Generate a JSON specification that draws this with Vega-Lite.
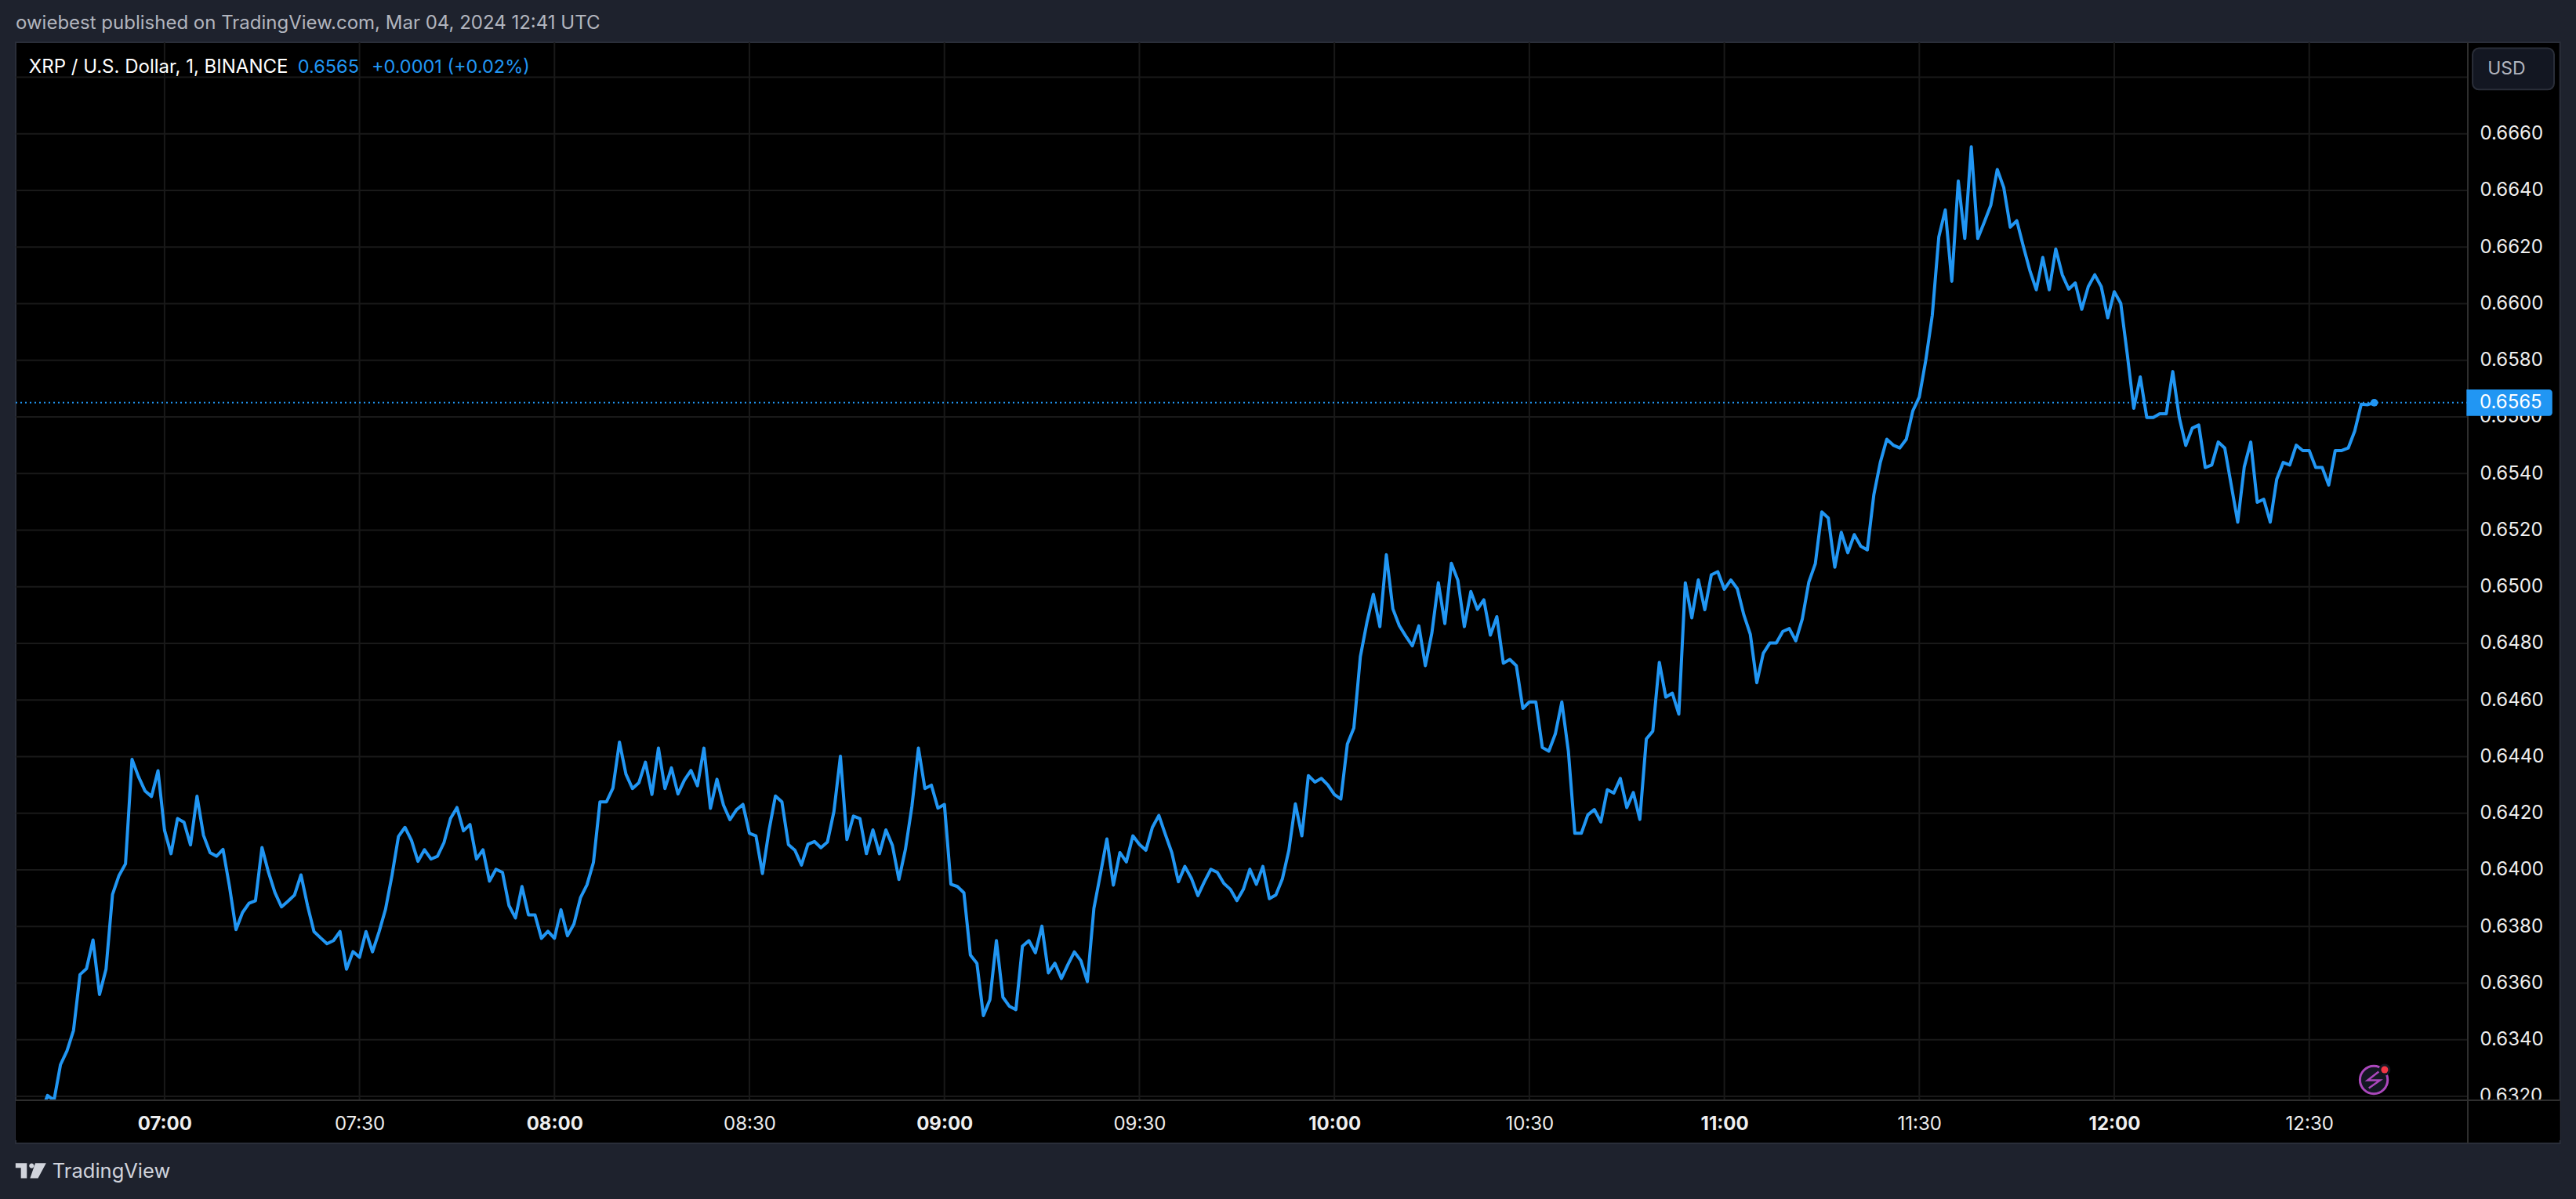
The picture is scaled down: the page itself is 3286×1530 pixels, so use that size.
{"$schema":"https://vega.github.io/schema/vega-lite/v6.json","autosize":"none","width":3128,"height":1350,"padding":{"left":20,"top":54,"right":138,"bottom":126},"background":"#1e222d",
"title":{"text":"owiebest published on TradingView.com, Mar 04, 2024 12:41 UTC","anchor":"start","frame":"group","offset":11,"font":"Inter","fontSize":24,"fontWeight":"normal","color":"#b2b5be"},
"encoding":{
"x":{"field":"time","type":"temporal","title":null,"scale":{"domain":[1709534226000,1709556864000]},"axis":{"format":"%H:%M","values":[{"utc":true,"year":2024,"month":3,"date":4,"hours":7,"minutes":0},{"utc":true,"year":2024,"month":3,"date":4,"hours":7,"minutes":30},{"utc":true,"year":2024,"month":3,"date":4,"hours":8,"minutes":0},{"utc":true,"year":2024,"month":3,"date":4,"hours":8,"minutes":30},{"utc":true,"year":2024,"month":3,"date":4,"hours":9,"minutes":0},{"utc":true,"year":2024,"month":3,"date":4,"hours":9,"minutes":30},{"utc":true,"year":2024,"month":3,"date":4,"hours":10,"minutes":0},{"utc":true,"year":2024,"month":3,"date":4,"hours":10,"minutes":30},{"utc":true,"year":2024,"month":3,"date":4,"hours":11,"minutes":0},{"utc":true,"year":2024,"month":3,"date":4,"hours":11,"minutes":30},{"utc":true,"year":2024,"month":3,"date":4,"hours":12,"minutes":0},{"utc":true,"year":2024,"month":3,"date":4,"hours":12,"minutes":30}],"grid":false,"domain":false,"ticks":false,"labelFont":"Inter","labelFontSize":24,"labelColor":"#eeeeee","labelPadding":18,"labelFontWeight":{"condition":{"test":"minutes(datum.value)===0","value":"bold"},"value":"normal"},"zindex":1}},
"y":{"field":"price","type":"quantitative","title":null,"scale":{"domain":[0.63186,0.66923],"nice":false,"zero":false},"axis":{"orient":"right","values":[0.634,0.636,0.638,0.64,0.642,0.644,0.646,0.648,0.65,0.652,0.654,0.658,0.66,0.662,0.664,0.666],"format":".4f","grid":false,"domain":false,"ticks":false,"labelFont":"Inter","labelFontSize":24,"labelColor":"#eeeeee","labelPadding":15,"zindex":1}}
},
"layer":[
{"data":{"values":[{"time":"2024-03-04T06:37:06Z","time2":"2024-03-04T13:08:36Z","price":0.66923,"price2":0.63034}]},"mark":{"type":"rect","fill":"#000000","stroke":"#2a2e39","strokeWidth":2},"encoding":{"x2":{"field":"time2"},"y2":{"field":"price2"}}},
{"data":{"values":[{"time":"2024-03-04T07:00:00Z","price":0.66923,"price2":0.63186},{"time":"2024-03-04T07:30:00Z","price":0.66923,"price2":0.63186},{"time":"2024-03-04T08:00:00Z","price":0.66923,"price2":0.63186},{"time":"2024-03-04T08:30:00Z","price":0.66923,"price2":0.63186},{"time":"2024-03-04T09:00:00Z","price":0.66923,"price2":0.63186},{"time":"2024-03-04T09:30:00Z","price":0.66923,"price2":0.63186},{"time":"2024-03-04T10:00:00Z","price":0.66923,"price2":0.63186},{"time":"2024-03-04T10:30:00Z","price":0.66923,"price2":0.63186},{"time":"2024-03-04T11:00:00Z","price":0.66923,"price2":0.63186},{"time":"2024-03-04T11:30:00Z","price":0.66923,"price2":0.63186},{"time":"2024-03-04T12:00:00Z","price":0.66923,"price2":0.63186},{"time":"2024-03-04T12:30:00Z","price":0.66923,"price2":0.63186}]},"mark":{"type":"rule","color":"#191919","strokeWidth":2},"encoding":{"y2":{"field":"price2"}}},
{"data":{"values":[{"time":"2024-03-04T06:37:06Z","time2":"2024-03-04T12:54:24Z","price":0.632},{"time":"2024-03-04T06:37:06Z","time2":"2024-03-04T12:54:24Z","price":0.634},{"time":"2024-03-04T06:37:06Z","time2":"2024-03-04T12:54:24Z","price":0.636},{"time":"2024-03-04T06:37:06Z","time2":"2024-03-04T12:54:24Z","price":0.638},{"time":"2024-03-04T06:37:06Z","time2":"2024-03-04T12:54:24Z","price":0.64},{"time":"2024-03-04T06:37:06Z","time2":"2024-03-04T12:54:24Z","price":0.642},{"time":"2024-03-04T06:37:06Z","time2":"2024-03-04T12:54:24Z","price":0.644},{"time":"2024-03-04T06:37:06Z","time2":"2024-03-04T12:54:24Z","price":0.646},{"time":"2024-03-04T06:37:06Z","time2":"2024-03-04T12:54:24Z","price":0.648},{"time":"2024-03-04T06:37:06Z","time2":"2024-03-04T12:54:24Z","price":0.65},{"time":"2024-03-04T06:37:06Z","time2":"2024-03-04T12:54:24Z","price":0.652},{"time":"2024-03-04T06:37:06Z","time2":"2024-03-04T12:54:24Z","price":0.654},{"time":"2024-03-04T06:37:06Z","time2":"2024-03-04T12:54:24Z","price":0.656},{"time":"2024-03-04T06:37:06Z","time2":"2024-03-04T12:54:24Z","price":0.658},{"time":"2024-03-04T06:37:06Z","time2":"2024-03-04T12:54:24Z","price":0.66},{"time":"2024-03-04T06:37:06Z","time2":"2024-03-04T12:54:24Z","price":0.662},{"time":"2024-03-04T06:37:06Z","time2":"2024-03-04T12:54:24Z","price":0.664},{"time":"2024-03-04T06:37:06Z","time2":"2024-03-04T12:54:24Z","price":0.666},{"time":"2024-03-04T06:37:06Z","time2":"2024-03-04T12:54:24Z","price":0.668}]},"mark":{"type":"rule","color":"#191919","strokeWidth":2},"encoding":{"x2":{"field":"time2"}}},
{"data":{"values":[{"time":"2024-03-04T06:37:06Z","time2":"2024-03-04T12:54:24Z","price":0.6565}]},"mark":{"type":"rule","color":"#2196f3","strokeWidth":2,"strokeDash":[2,4]},"encoding":{"x2":{"field":"time2"}}},
{"data":{"values":[
{"time":"2024-03-04T06:41:00Z","price":0.6314},{"time":"2024-03-04T06:42:00Z","price":0.63203},{"time":"2024-03-04T06:43:00Z","price":0.63186},{"time":"2024-03-04T06:44:00Z","price":0.63312},{"time":"2024-03-04T06:45:00Z","price":0.63361},{"time":"2024-03-04T06:46:00Z","price":0.63433},{"time":"2024-03-04T06:47:00Z","price":0.6363},{"time":"2024-03-04T06:48:00Z","price":0.63651},{"time":"2024-03-04T06:49:00Z","price":0.63752},{"time":"2024-03-04T06:50:00Z","price":0.6356},{"time":"2024-03-04T06:51:00Z","price":0.63649},{"time":"2024-03-04T06:52:00Z","price":0.63913},{"time":"2024-03-04T06:53:00Z","price":0.6398},{"time":"2024-03-04T06:54:00Z","price":0.64021},{"time":"2024-03-04T06:55:00Z","price":0.6439},{"time":"2024-03-04T06:56:00Z","price":0.64329},{"time":"2024-03-04T06:57:00Z","price":0.64279},{"time":"2024-03-04T06:58:00Z","price":0.64259},{"time":"2024-03-04T06:59:00Z","price":0.6435},
{"time":"2024-03-04T07:00:00Z","price":0.6414},{"time":"2024-03-04T07:01:00Z","price":0.64057},{"time":"2024-03-04T07:02:00Z","price":0.64181},{"time":"2024-03-04T07:03:00Z","price":0.64168},{"time":"2024-03-04T07:04:00Z","price":0.64088},{"time":"2024-03-04T07:05:00Z","price":0.6426},{"time":"2024-03-04T07:06:00Z","price":0.64122},{"time":"2024-03-04T07:07:00Z","price":0.64061},{"time":"2024-03-04T07:08:00Z","price":0.64048},{"time":"2024-03-04T07:09:00Z","price":0.64072},{"time":"2024-03-04T07:10:00Z","price":0.63941},{"time":"2024-03-04T07:11:00Z","price":0.63789},{"time":"2024-03-04T07:12:00Z","price":0.63849},{"time":"2024-03-04T07:13:00Z","price":0.63882},{"time":"2024-03-04T07:14:00Z","price":0.63891},{"time":"2024-03-04T07:15:00Z","price":0.64079},{"time":"2024-03-04T07:16:00Z","price":0.63991},{"time":"2024-03-04T07:17:00Z","price":0.63919},{"time":"2024-03-04T07:18:00Z","price":0.63869},{"time":"2024-03-04T07:19:00Z","price":0.63889},{"time":"2024-03-04T07:20:00Z","price":0.63911},{"time":"2024-03-04T07:21:00Z","price":0.63982},{"time":"2024-03-04T07:22:00Z","price":0.63874},{"time":"2024-03-04T07:23:00Z","price":0.63782},{"time":"2024-03-04T07:24:00Z","price":0.6376},{"time":"2024-03-04T07:25:00Z","price":0.63739},{"time":"2024-03-04T07:26:00Z","price":0.6375},{"time":"2024-03-04T07:27:00Z","price":0.63782},{"time":"2024-03-04T07:28:00Z","price":0.63649},{"time":"2024-03-04T07:29:00Z","price":0.63711},{"time":"2024-03-04T07:30:00Z","price":0.63691},{"time":"2024-03-04T07:31:00Z","price":0.63782},{"time":"2024-03-04T07:32:00Z","price":0.6371},{"time":"2024-03-04T07:33:00Z","price":0.6378},{"time":"2024-03-04T07:34:00Z","price":0.6386},{"time":"2024-03-04T07:35:00Z","price":0.6398},{"time":"2024-03-04T07:36:00Z","price":0.64118},{"time":"2024-03-04T07:37:00Z","price":0.6415},{"time":"2024-03-04T07:38:00Z","price":0.64104},{"time":"2024-03-04T07:39:00Z","price":0.6403},{"time":"2024-03-04T07:40:00Z","price":0.64071},{"time":"2024-03-04T07:41:00Z","price":0.64038},{"time":"2024-03-04T07:42:00Z","price":0.64048},{"time":"2024-03-04T07:43:00Z","price":0.64096},{"time":"2024-03-04T07:44:00Z","price":0.64181},{"time":"2024-03-04T07:45:00Z","price":0.6422},{"time":"2024-03-04T07:46:00Z","price":0.64138},{"time":"2024-03-04T07:47:00Z","price":0.6416},{"time":"2024-03-04T07:48:00Z","price":0.64038},{"time":"2024-03-04T07:49:00Z","price":0.64071},{"time":"2024-03-04T07:50:00Z","price":0.6396},{"time":"2024-03-04T07:51:00Z","price":0.64002},{"time":"2024-03-04T07:52:00Z","price":0.63991},{"time":"2024-03-04T07:53:00Z","price":0.63874},{"time":"2024-03-04T07:54:00Z","price":0.6383},{"time":"2024-03-04T07:55:00Z","price":0.63941},{"time":"2024-03-04T07:56:00Z","price":0.63841},{"time":"2024-03-04T07:57:00Z","price":0.63841},{"time":"2024-03-04T07:58:00Z","price":0.63758},{"time":"2024-03-04T07:59:00Z","price":0.63783},
{"time":"2024-03-04T08:00:00Z","price":0.63758},{"time":"2024-03-04T08:01:00Z","price":0.63859},{"time":"2024-03-04T08:02:00Z","price":0.63767},{"time":"2024-03-04T08:03:00Z","price":0.63809},{"time":"2024-03-04T08:04:00Z","price":0.63901},{"time":"2024-03-04T08:05:00Z","price":0.63947},{"time":"2024-03-04T08:06:00Z","price":0.64026},{"time":"2024-03-04T08:07:00Z","price":0.6424},{"time":"2024-03-04T08:08:00Z","price":0.6424},{"time":"2024-03-04T08:09:00Z","price":0.64289},{"time":"2024-03-04T08:10:00Z","price":0.64451},{"time":"2024-03-04T08:11:00Z","price":0.64338},{"time":"2024-03-04T08:12:00Z","price":0.64287},{"time":"2024-03-04T08:13:00Z","price":0.64308},{"time":"2024-03-04T08:14:00Z","price":0.6438},{"time":"2024-03-04T08:15:00Z","price":0.64266},{"time":"2024-03-04T08:16:00Z","price":0.6443},{"time":"2024-03-04T08:17:00Z","price":0.64287},{"time":"2024-03-04T08:18:00Z","price":0.6436},{"time":"2024-03-04T08:19:00Z","price":0.64268},{"time":"2024-03-04T08:20:00Z","price":0.64317},{"time":"2024-03-04T08:21:00Z","price":0.64351},{"time":"2024-03-04T08:22:00Z","price":0.64297},{"time":"2024-03-04T08:23:00Z","price":0.6443},{"time":"2024-03-04T08:24:00Z","price":0.64217},{"time":"2024-03-04T08:25:00Z","price":0.6432},{"time":"2024-03-04T08:26:00Z","price":0.64229},{"time":"2024-03-04T08:27:00Z","price":0.64177},{"time":"2024-03-04T08:28:00Z","price":0.64212},{"time":"2024-03-04T08:29:00Z","price":0.64231},{"time":"2024-03-04T08:30:00Z","price":0.64129},{"time":"2024-03-04T08:31:00Z","price":0.6412},{"time":"2024-03-04T08:32:00Z","price":0.63987},{"time":"2024-03-04T08:33:00Z","price":0.64137},{"time":"2024-03-04T08:34:00Z","price":0.64261},{"time":"2024-03-04T08:35:00Z","price":0.6424},{"time":"2024-03-04T08:36:00Z","price":0.64089},{"time":"2024-03-04T08:37:00Z","price":0.64069},{"time":"2024-03-04T08:38:00Z","price":0.64017},{"time":"2024-03-04T08:39:00Z","price":0.6409},{"time":"2024-03-04T08:40:00Z","price":0.641},{"time":"2024-03-04T08:41:00Z","price":0.64078},{"time":"2024-03-04T08:42:00Z","price":0.64098},{"time":"2024-03-04T08:43:00Z","price":0.64206},{"time":"2024-03-04T08:44:00Z","price":0.64401},{"time":"2024-03-04T08:45:00Z","price":0.64107},{"time":"2024-03-04T08:46:00Z","price":0.6419},{"time":"2024-03-04T08:47:00Z","price":0.64181},{"time":"2024-03-04T08:48:00Z","price":0.64057},{"time":"2024-03-04T08:49:00Z","price":0.64141},{"time":"2024-03-04T08:50:00Z","price":0.64057},{"time":"2024-03-04T08:51:00Z","price":0.64141},{"time":"2024-03-04T08:52:00Z","price":0.64086},{"time":"2024-03-04T08:53:00Z","price":0.63966},{"time":"2024-03-04T08:54:00Z","price":0.64072},{"time":"2024-03-04T08:55:00Z","price":0.64224},{"time":"2024-03-04T08:56:00Z","price":0.6443},{"time":"2024-03-04T08:57:00Z","price":0.64287},{"time":"2024-03-04T08:58:00Z","price":0.64299},{"time":"2024-03-04T08:59:00Z","price":0.64218},
{"time":"2024-03-04T09:00:00Z","price":0.64231},{"time":"2024-03-04T09:01:00Z","price":0.63949},{"time":"2024-03-04T09:02:00Z","price":0.63941},{"time":"2024-03-04T09:03:00Z","price":0.63919},{"time":"2024-03-04T09:04:00Z","price":0.63699},{"time":"2024-03-04T09:05:00Z","price":0.6367},{"time":"2024-03-04T09:06:00Z","price":0.63485},{"time":"2024-03-04T09:07:00Z","price":0.63541},{"time":"2024-03-04T09:08:00Z","price":0.6375},{"time":"2024-03-04T09:09:00Z","price":0.6355},{"time":"2024-03-04T09:10:00Z","price":0.63518},{"time":"2024-03-04T09:11:00Z","price":0.63506},{"time":"2024-03-04T09:12:00Z","price":0.6373},{"time":"2024-03-04T09:13:00Z","price":0.6375},{"time":"2024-03-04T09:14:00Z","price":0.63707},{"time":"2024-03-04T09:15:00Z","price":0.63801},{"time":"2024-03-04T09:16:00Z","price":0.63636},{"time":"2024-03-04T09:17:00Z","price":0.6367},{"time":"2024-03-04T09:18:00Z","price":0.63616},{"time":"2024-03-04T09:19:00Z","price":0.63665},{"time":"2024-03-04T09:20:00Z","price":0.6371},{"time":"2024-03-04T09:21:00Z","price":0.63679},{"time":"2024-03-04T09:22:00Z","price":0.63605},{"time":"2024-03-04T09:23:00Z","price":0.63864},{"time":"2024-03-04T09:24:00Z","price":0.63984},{"time":"2024-03-04T09:25:00Z","price":0.64109},{"time":"2024-03-04T09:26:00Z","price":0.63946},{"time":"2024-03-04T09:27:00Z","price":0.64061},{"time":"2024-03-04T09:28:00Z","price":0.64028},{"time":"2024-03-04T09:29:00Z","price":0.6412},{"time":"2024-03-04T09:30:00Z","price":0.6409},{"time":"2024-03-04T09:31:00Z","price":0.64069},{"time":"2024-03-04T09:32:00Z","price":0.6415},{"time":"2024-03-04T09:33:00Z","price":0.64192},{"time":"2024-03-04T09:34:00Z","price":0.64125},{"time":"2024-03-04T09:35:00Z","price":0.6406},{"time":"2024-03-04T09:36:00Z","price":0.63958},{"time":"2024-03-04T09:37:00Z","price":0.64012},{"time":"2024-03-04T09:38:00Z","price":0.6397},{"time":"2024-03-04T09:39:00Z","price":0.63909},{"time":"2024-03-04T09:40:00Z","price":0.63958},{"time":"2024-03-04T09:41:00Z","price":0.64002},{"time":"2024-03-04T09:42:00Z","price":0.63991},{"time":"2024-03-04T09:43:00Z","price":0.63952},{"time":"2024-03-04T09:44:00Z","price":0.63931},{"time":"2024-03-04T09:45:00Z","price":0.63891},{"time":"2024-03-04T09:46:00Z","price":0.63931},{"time":"2024-03-04T09:47:00Z","price":0.64002},{"time":"2024-03-04T09:48:00Z","price":0.63949},{"time":"2024-03-04T09:49:00Z","price":0.64012},{"time":"2024-03-04T09:50:00Z","price":0.63898},{"time":"2024-03-04T09:51:00Z","price":0.63911},{"time":"2024-03-04T09:52:00Z","price":0.63968},{"time":"2024-03-04T09:53:00Z","price":0.64069},{"time":"2024-03-04T09:54:00Z","price":0.64233},{"time":"2024-03-04T09:55:00Z","price":0.6412},{"time":"2024-03-04T09:56:00Z","price":0.64333},{"time":"2024-03-04T09:57:00Z","price":0.6431},{"time":"2024-03-04T09:58:00Z","price":0.64323},{"time":"2024-03-04T09:59:00Z","price":0.643},
{"time":"2024-03-04T10:00:00Z","price":0.64266},{"time":"2024-03-04T10:01:00Z","price":0.6425},{"time":"2024-03-04T10:02:00Z","price":0.64444},{"time":"2024-03-04T10:03:00Z","price":0.64501},{"time":"2024-03-04T10:04:00Z","price":0.64753},{"time":"2024-03-04T10:05:00Z","price":0.64873},{"time":"2024-03-04T10:06:00Z","price":0.64973},{"time":"2024-03-04T10:07:00Z","price":0.64859},{"time":"2024-03-04T10:08:00Z","price":0.65113},{"time":"2024-03-04T10:09:00Z","price":0.64922},{"time":"2024-03-04T10:10:00Z","price":0.64862},{"time":"2024-03-04T10:11:00Z","price":0.64825},{"time":"2024-03-04T10:12:00Z","price":0.64791},{"time":"2024-03-04T10:13:00Z","price":0.64862},{"time":"2024-03-04T10:14:00Z","price":0.64721},{"time":"2024-03-04T10:15:00Z","price":0.64836},{"time":"2024-03-04T10:16:00Z","price":0.65014},{"time":"2024-03-04T10:17:00Z","price":0.6487},{"time":"2024-03-04T10:18:00Z","price":0.65083},{"time":"2024-03-04T10:19:00Z","price":0.65023},{"time":"2024-03-04T10:20:00Z","price":0.64859},{"time":"2024-03-04T10:21:00Z","price":0.64983},{"time":"2024-03-04T10:22:00Z","price":0.6492},{"time":"2024-03-04T10:23:00Z","price":0.64954},{"time":"2024-03-04T10:24:00Z","price":0.64829},{"time":"2024-03-04T10:25:00Z","price":0.64894},{"time":"2024-03-04T10:26:00Z","price":0.6473},{"time":"2024-03-04T10:27:00Z","price":0.64743},{"time":"2024-03-04T10:28:00Z","price":0.64721},{"time":"2024-03-04T10:29:00Z","price":0.6457},{"time":"2024-03-04T10:30:00Z","price":0.64593},{"time":"2024-03-04T10:31:00Z","price":0.64593},{"time":"2024-03-04T10:32:00Z","price":0.64432},{"time":"2024-03-04T10:33:00Z","price":0.64419},{"time":"2024-03-04T10:34:00Z","price":0.6448},{"time":"2024-03-04T10:35:00Z","price":0.64593},{"time":"2024-03-04T10:36:00Z","price":0.6442},{"time":"2024-03-04T10:37:00Z","price":0.64129},{"time":"2024-03-04T10:38:00Z","price":0.64129},{"time":"2024-03-04T10:39:00Z","price":0.64194},{"time":"2024-03-04T10:40:00Z","price":0.64213},{"time":"2024-03-04T10:41:00Z","price":0.64169},{"time":"2024-03-04T10:42:00Z","price":0.64283},{"time":"2024-03-04T10:43:00Z","price":0.64271},{"time":"2024-03-04T10:44:00Z","price":0.64323},{"time":"2024-03-04T10:45:00Z","price":0.6422},{"time":"2024-03-04T10:46:00Z","price":0.64273},{"time":"2024-03-04T10:47:00Z","price":0.64178},{"time":"2024-03-04T10:48:00Z","price":0.64462},{"time":"2024-03-04T10:49:00Z","price":0.6449},{"time":"2024-03-04T10:50:00Z","price":0.64733},{"time":"2024-03-04T10:51:00Z","price":0.6461},{"time":"2024-03-04T10:52:00Z","price":0.64624},{"time":"2024-03-04T10:53:00Z","price":0.6455},{"time":"2024-03-04T10:54:00Z","price":0.65014},{"time":"2024-03-04T10:55:00Z","price":0.6489},{"time":"2024-03-04T10:56:00Z","price":0.65024},{"time":"2024-03-04T10:57:00Z","price":0.64919},{"time":"2024-03-04T10:58:00Z","price":0.65042},{"time":"2024-03-04T10:59:00Z","price":0.65053},
{"time":"2024-03-04T11:00:00Z","price":0.64991},{"time":"2024-03-04T11:01:00Z","price":0.65024},{"time":"2024-03-04T11:02:00Z","price":0.64993},{"time":"2024-03-04T11:03:00Z","price":0.64901},{"time":"2024-03-04T11:04:00Z","price":0.64832},{"time":"2024-03-04T11:05:00Z","price":0.64661},{"time":"2024-03-04T11:06:00Z","price":0.64765},{"time":"2024-03-04T11:07:00Z","price":0.64801},{"time":"2024-03-04T11:08:00Z","price":0.64801},{"time":"2024-03-04T11:09:00Z","price":0.64842},{"time":"2024-03-04T11:10:00Z","price":0.64852},{"time":"2024-03-04T11:11:00Z","price":0.64809},{"time":"2024-03-04T11:12:00Z","price":0.64886},{"time":"2024-03-04T11:13:00Z","price":0.65016},{"time":"2024-03-04T11:14:00Z","price":0.65081},{"time":"2024-03-04T11:15:00Z","price":0.65264},{"time":"2024-03-04T11:16:00Z","price":0.65243},{"time":"2024-03-04T11:17:00Z","price":0.65069},{"time":"2024-03-04T11:18:00Z","price":0.65192},{"time":"2024-03-04T11:19:00Z","price":0.6512},{"time":"2024-03-04T11:20:00Z","price":0.65184},{"time":"2024-03-04T11:21:00Z","price":0.65143},{"time":"2024-03-04T11:22:00Z","price":0.6513},{"time":"2024-03-04T11:23:00Z","price":0.65324},{"time":"2024-03-04T11:24:00Z","price":0.65439},{"time":"2024-03-04T11:25:00Z","price":0.65521},{"time":"2024-03-04T11:26:00Z","price":0.655},{"time":"2024-03-04T11:27:00Z","price":0.6549},{"time":"2024-03-04T11:28:00Z","price":0.65521},{"time":"2024-03-04T11:29:00Z","price":0.65621},{"time":"2024-03-04T11:30:00Z","price":0.6567},{"time":"2024-03-04T11:31:00Z","price":0.658},{"time":"2024-03-04T11:32:00Z","price":0.65959},{"time":"2024-03-04T11:33:00Z","price":0.66235},{"time":"2024-03-04T11:34:00Z","price":0.66331},{"time":"2024-03-04T11:35:00Z","price":0.66079},{"time":"2024-03-04T11:36:00Z","price":0.66433},{"time":"2024-03-04T11:37:00Z","price":0.6623},{"time":"2024-03-04T11:38:00Z","price":0.66554},{"time":"2024-03-04T11:39:00Z","price":0.6623},{"time":"2024-03-04T11:40:00Z","price":0.66288},{"time":"2024-03-04T11:41:00Z","price":0.66347},{"time":"2024-03-04T11:42:00Z","price":0.66474},{"time":"2024-03-04T11:43:00Z","price":0.6641},{"time":"2024-03-04T11:44:00Z","price":0.6627},{"time":"2024-03-04T11:45:00Z","price":0.66293},{"time":"2024-03-04T11:46:00Z","price":0.66203},{"time":"2024-03-04T11:47:00Z","price":0.66118},{"time":"2024-03-04T11:48:00Z","price":0.66049},{"time":"2024-03-04T11:49:00Z","price":0.66163},{"time":"2024-03-04T11:50:00Z","price":0.66049},{"time":"2024-03-04T11:51:00Z","price":0.66193},{"time":"2024-03-04T11:52:00Z","price":0.66102},{"time":"2024-03-04T11:53:00Z","price":0.66051},{"time":"2024-03-04T11:54:00Z","price":0.66073},{"time":"2024-03-04T11:55:00Z","price":0.6598},{"time":"2024-03-04T11:56:00Z","price":0.6606},{"time":"2024-03-04T11:57:00Z","price":0.66102},{"time":"2024-03-04T11:58:00Z","price":0.6606},{"time":"2024-03-04T11:59:00Z","price":0.6595},
{"time":"2024-03-04T12:00:00Z","price":0.66042},{"time":"2024-03-04T12:01:00Z","price":0.66001},{"time":"2024-03-04T12:02:00Z","price":0.65821},{"time":"2024-03-04T12:03:00Z","price":0.6563},{"time":"2024-03-04T12:04:00Z","price":0.65741},{"time":"2024-03-04T12:05:00Z","price":0.65598},{"time":"2024-03-04T12:06:00Z","price":0.65598},{"time":"2024-03-04T12:07:00Z","price":0.65611},{"time":"2024-03-04T12:08:00Z","price":0.65611},{"time":"2024-03-04T12:09:00Z","price":0.6576},{"time":"2024-03-04T12:10:00Z","price":0.65598},{"time":"2024-03-04T12:11:00Z","price":0.65499},{"time":"2024-03-04T12:12:00Z","price":0.6556},{"time":"2024-03-04T12:13:00Z","price":0.65571},{"time":"2024-03-04T12:14:00Z","price":0.65421},{"time":"2024-03-04T12:15:00Z","price":0.6543},{"time":"2024-03-04T12:16:00Z","price":0.65511},{"time":"2024-03-04T12:17:00Z","price":0.6549},{"time":"2024-03-04T12:18:00Z","price":0.65359},{"time":"2024-03-04T12:19:00Z","price":0.65228},{"time":"2024-03-04T12:20:00Z","price":0.65423},{"time":"2024-03-04T12:21:00Z","price":0.65511},{"time":"2024-03-04T12:22:00Z","price":0.65298},{"time":"2024-03-04T12:23:00Z","price":0.65309},{"time":"2024-03-04T12:24:00Z","price":0.65228},{"time":"2024-03-04T12:25:00Z","price":0.6538},{"time":"2024-03-04T12:26:00Z","price":0.65439},{"time":"2024-03-04T12:27:00Z","price":0.6543},{"time":"2024-03-04T12:28:00Z","price":0.655},{"time":"2024-03-04T12:29:00Z","price":0.65481},{"time":"2024-03-04T12:30:00Z","price":0.65481},{"time":"2024-03-04T12:31:00Z","price":0.65421},{"time":"2024-03-04T12:32:00Z","price":0.65421},{"time":"2024-03-04T12:33:00Z","price":0.65359},{"time":"2024-03-04T12:34:00Z","price":0.65481},{"time":"2024-03-04T12:35:00Z","price":0.65481},{"time":"2024-03-04T12:36:00Z","price":0.6549},{"time":"2024-03-04T12:37:00Z","price":0.6555},{"time":"2024-03-04T12:38:00Z","price":0.65645},{"time":"2024-03-04T12:39:00Z","price":0.65643},{"time":"2024-03-04T12:40:00Z","price":0.6565}
]},"mark":{"type":"line","color":"#2196f3","strokeWidth":4,"strokeJoin":"round","clip":true}},
{"data":{"values":[{"time":"2024-03-04T12:40:00Z","price":0.6565}]},"mark":{"type":"point","filled":true,"opacity":1,"color":"#2196f3","size":95}},
{"data":{"values":[{"time":"2024-03-04T12:56:12Z","price":0.656,"label":"0.6560"},{"time":"2024-03-04T12:56:12Z","price":0.632,"label":"0.6320"}]},"mark":{"type":"text","align":"left","baseline":"middle","font":"Inter","fontSize":24,"color":"#eeeeee"},"encoding":{"text":{"field":"label"}}},
{"data":{"values":[{"time":"2024-03-04T06:37:06Z","time2":"2024-03-04T13:08:36Z","price":0.63186,"price2":0.63045}]},"mark":{"type":"rect","fill":"#000000"},"encoding":{"x2":{"field":"time2"},"y2":{"field":"price2"}}},
{"data":{"values":[{"time":"2024-03-04T06:37:06Z","time2":"2024-03-04T13:08:36Z","price":0.63186}]},"mark":{"type":"rule","color":"#2e2e2e","strokeWidth":2},"encoding":{"x2":{"field":"time2"}}},
{"data":{"values":[{"time":"2024-03-04T12:54:24Z","price":0.66923,"price2":0.63034}]},"mark":{"type":"rule","color":"#2e2e2e","strokeWidth":2},"encoding":{"y2":{"field":"price2"}}},
{"data":{"values":[{"time":"2024-03-04T12:54:12Z","time2":"2024-03-04T13:07:24Z","price":0.65697,"price2":0.65603}]},"mark":{"type":"rect","fill":"#2196f3","cornerRadiusTopRight":4,"cornerRadiusBottomRight":4},"encoding":{"x2":{"field":"time2"},"y2":{"field":"price2"}}},
{"data":{"values":[{"time":"2024-03-04T12:56:12Z","price":0.6565,"label":"0.6565"}]},"mark":{"type":"text","align":"left","baseline":"middle","font":"Inter","fontSize":24,"color":"#ffffff"},"encoding":{"text":{"field":"label"}}},
{"data":{"values":[{"time":"2024-03-04T12:55:08Z","time2":"2024-03-04T13:07:40Z","price":0.66902,"price2":0.66756}]},"mark":{"type":"rect","fill":"#131722","stroke":"#2a2e39","strokeWidth":2,"cornerRadius":8},"encoding":{"x2":{"field":"time2"},"y2":{"field":"price2"}}},
{"data":{"values":[{"time":"2024-03-04T12:57:26Z","price":0.66829,"label":"USD"}]},"mark":{"type":"text","align":"left","baseline":"middle","font":"Inter","fontSize":23,"color":"#b2b5be"},"encoding":{"text":{"field":"label"}}},
{"data":{"values":[{"time":"2024-03-04T06:39:08Z","price":0.66835,"label":"XRP / U.S. Dollar, 1, BINANCE"}]},"mark":{"type":"text","align":"left","baseline":"middle","font":"Inter","fontSize":24,"color":"#ffffff"},"encoding":{"text":{"field":"label"}}},
{"data":{"values":[{"time":"2024-03-04T07:20:30Z","price":0.66835,"label":"0.6565"},{"time":"2024-03-04T07:31:51Z","price":0.66835,"label":"+0.0001 (+0.02%)"}]},"mark":{"type":"text","align":"left","baseline":"middle","font":"Inter","fontSize":23.5,"color":"#2196f3"},"encoding":{"text":{"field":"label"}}},
{"data":{"values":[{"time":"2024-03-04T12:39:56Z","price":0.63258}]},"mark":{"type":"point","filled":true,"opacity":1,"fill":"#131722","stroke":"#ab47bc","strokeWidth":3,"size":1250}},
{"data":{"values":[{"time":"2024-03-04T12:39:56Z","price":0.63258}]},"mark":{"type":"point","shape":"M.6 -1L-.75 .05H.75L-.6 1","filled":false,"opacity":1,"color":"#ab47bc","strokeWidth":2.5,"size":441}},
{"data":{"values":[{"time":"2024-03-04T12:41:36Z","price":0.63294}]},"mark":{"type":"point","filled":true,"opacity":1,"color":"#131722","size":220}},
{"data":{"values":[{"time":"2024-03-04T12:41:36Z","price":0.63294}]},"mark":{"type":"point","filled":true,"opacity":1,"color":"#f23645","size":80}},
{"data":{"values":[{"time":"2024-03-04T06:39:26Z","price":0.62937}]},"mark":{"type":"point","shape":"M-1 -.495H-.26V.495H-.65V-.185H-1ZM-.11 -.33A.16 .16 0 1 0 .21 -.33A.16 .16 0 1 0 -.11 -.33ZM.29 -.495H1L.47 .495H-.05Z","filled":true,"opacity":1,"color":"#d1d4dc","size":1521}},
{"data":{"values":[{"time":"2024-03-04T06:42:45Z","price":0.62934,"label":"TradingView"}]},"mark":{"type":"text","align":"left","baseline":"middle","font":"Inter","fontSize":25.5,"color":"#d1d4dc"},"encoding":{"text":{"field":"label"}}}
]}
